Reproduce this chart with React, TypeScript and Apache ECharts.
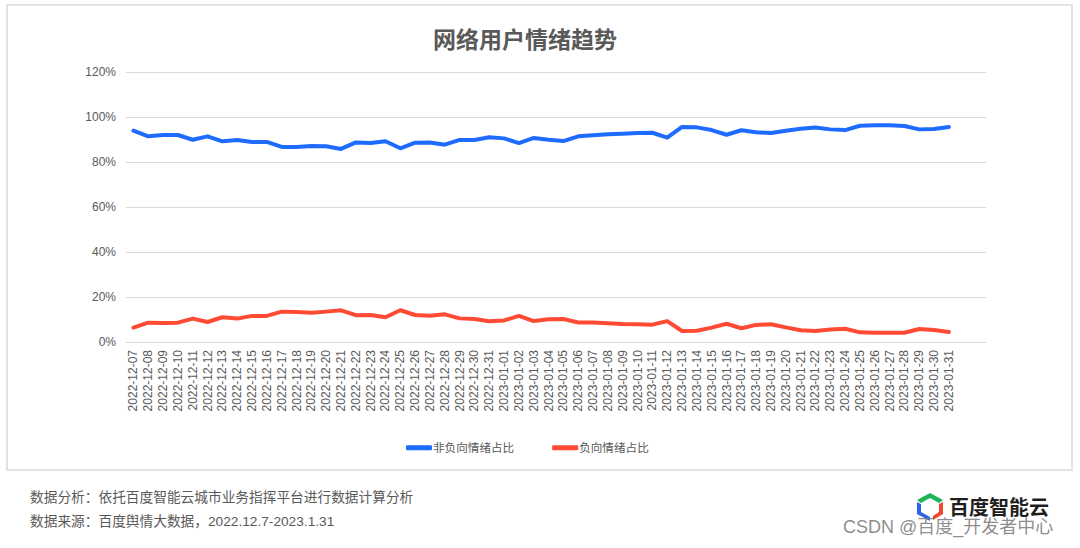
import React, { useEffect, useRef } from "react";
import * as echarts from "echarts";

const dates = [
  "2022-12-07", "2022-12-08", "2022-12-09", "2022-12-10", "2022-12-11", "2022-12-12", "2022-12-13",
  "2022-12-14", "2022-12-15", "2022-12-16", "2022-12-17", "2022-12-18", "2022-12-19", "2022-12-20",
  "2022-12-21", "2022-12-22", "2022-12-23", "2022-12-24", "2022-12-25", "2022-12-26", "2022-12-27",
  "2022-12-28", "2022-12-29", "2022-12-30", "2022-12-31", "2023-01-01", "2023-01-02", "2023-01-03",
  "2023-01-04", "2023-01-05", "2023-01-06", "2023-01-07", "2023-01-08", "2023-01-09", "2023-01-10",
  "2023-01-11", "2023-01-12", "2023-01-13", "2023-01-14", "2023-01-15", "2023-01-16", "2023-01-17",
  "2023-01-18", "2023-01-19", "2023-01-20", "2023-01-21", "2023-01-22", "2023-01-23", "2023-01-24",
  "2023-01-25", "2023-01-26", "2023-01-27", "2023-01-28", "2023-01-29", "2023-01-30", "2023-01-31",
];
// two empty trailing categories as in the original sheet
const trailingBlanks = ["", ""];

const nonNegative = [
  93.9, 91.4, 92.0, 92.0, 89.9, 91.4, 89.2, 89.8, 88.9, 88.9, 86.7, 86.7, 87.1, 87.0,
  85.8, 88.7, 88.4, 89.2, 86.1, 88.6, 88.7, 87.7, 89.8, 89.8, 91.0, 90.5, 88.4, 90.7,
  89.9, 89.3, 91.4, 91.9, 92.3, 92.6, 92.9, 93.0, 90.8, 95.6, 95.4, 94.2, 92.1, 94.1,
  93.2, 92.9, 93.9, 94.8, 95.3, 94.5, 94.2, 96.1, 96.3, 96.3, 96.0, 94.5, 94.7, 95.6,
];
const negative = [
  6.4, 8.6, 8.4, 8.6, 10.4, 8.9, 11.0, 10.4, 11.6, 11.6, 13.5, 13.3, 13.0, 13.5,
  14.1, 11.9, 12.0, 11.0, 14.1, 12.0, 11.7, 12.3, 10.5, 10.2, 9.2, 9.6, 11.6, 9.3,
  10.1, 10.2, 8.7, 8.7, 8.3, 8.0, 7.9, 7.7, 9.3, 4.9, 5.0, 6.4, 8.1, 6.1,
  7.6, 7.9, 6.5, 5.2, 4.9, 5.6, 5.9, 4.3, 4.1, 4.1, 4.1, 5.8, 5.3, 4.4,
];

const seriesNames = ["非负向情绪占比", "负向情绪占比"];
const titleText = "网络用户情绪趋势";
const footLine1 = "数据分析：依托百度智能云城市业务指挥平台进行数据计算分析";
const footLine2 = "数据来源：百度舆情大数据，2022.12.7-2023.1.31";
const brandText = "百度智能云";
const watermark = "CSDN @百度_开发者中心";

const FONT = "'Liberation Sans', 'Noto Sans CJK SC', sans-serif";
const GRAY = "#595959";

export default function App() {
  const ref = useRef<HTMLDivElement>(null);
  useEffect(() => {
    if (!ref.current) return;
    const chart = echarts.init(ref.current, null, { renderer: "svg" });
    chart.setOption({
      animation: false,
      backgroundColor: "#ffffff",
      textStyle: { fontFamily: FONT },
      title: {
        text: titleText,
        left: 428,
        top: 23,
        textStyle: { fontSize: 23, fontWeight: "bold", color: GRAY, fontFamily: FONT },
      },
      legend: {
        top: 442,
        left: 406,
        padding: 0,
        icon: "roundRect",
        itemWidth: 26,
        itemHeight: 5,
        itemGap: 38,
        textStyle: { fontSize: 11.6, color: GRAY, padding: [0, 0, 0, -4] },
        data: seriesNames,
      },
      grid: { left: 126, right: 94, top: 72, bottom: 206, containLabel: false },
      xAxis: {
        type: "category",
        data: [...dates, ...trailingBlanks],
        boundaryGap: true,
        axisLine: { show: true, lineStyle: { color: "#d9d9d9" } },
        axisTick: { show: false },
        axisLabel: { rotate: 90, interval: 0, fontSize: 12, color: GRAY, margin: 8 },
      },
      yAxis: {
        type: "value",
        min: 0,
        max: 120,
        interval: 20,
        axisLine: { show: false },
        axisTick: { show: false },
        axisLabel: { formatter: "{value}%", fontSize: 12, color: GRAY, margin: 10 },
        splitLine: { lineStyle: { color: "#d9d9d9", width: 1 } },
      },
      series: [
        {
          name: seriesNames[0],
          type: "line",
          data: nonNegative,
          showSymbol: false,
          symbol: "none",
          lineStyle: { width: 4, color: "#1e6bff", cap: "round", join: "round" },
          itemStyle: { color: "#1e6bff" },
        },
        {
          name: seriesNames[1],
          type: "line",
          data: negative,
          showSymbol: false,
          symbol: "none",
          lineStyle: { width: 4, color: "#ff4b33", cap: "round", join: "round" },
          itemStyle: { color: "#ff4b33" },
        },
      ],
      graphic: [
        {
          type: "rect",
          silent: true,
          shape: { x: 7, y: 5, width: 1065, height: 465 },
          style: { fill: "none", stroke: "#e3e3e3", lineWidth: 2 },
        },
        {
          type: "text",
          x: 30,
          y: 497,
          style: { text: footLine1, fontSize: 13.7, fill: GRAY, fontFamily: FONT, textVerticalAlign: "middle" },
        },
        {
          type: "text",
          x: 30,
          y: 521,
          style: { text: footLine2, fontSize: 13.7, fill: GRAY, fontFamily: FONT, textVerticalAlign: "middle" },
        },
        {
          type: "polygon",
          shape: { points: [[917, 500], [930, 493], [943, 500], [939, 503], [930, 498], [921, 503]] },
          style: { fill: "#1fb35a" },
        },
        {
          type: "polygon",
          shape: { points: [[917, 502], [921, 504], [921, 512], [930, 517], [930, 521], [917, 514]] },
          style: { fill: "#2b63f0" },
        },
        {
          type: "polygon",
          shape: { points: [[943, 502], [943, 514], [933, 520], [933, 516], [939, 512], [939, 504]] },
          style: { fill: "#f0472e" },
        },
        {
          type: "text",
          x: 949,
          y: 508,
          style: { text: brandText, fontSize: 20, fontWeight: "bold", fill: "#1f1f1f", fontFamily: FONT, textVerticalAlign: "middle" },
        },
        {
          type: "text",
          x: 843,
          y: 527,
          style: { text: watermark, fontSize: 18, fill: "rgba(120,120,120,0.85)", fontFamily: FONT, textVerticalAlign: "middle" },
        },
      ],
    });
    return () => chart.dispose();
  }, []);
  return (
    <div
      ref={ref}
      style={{ position: "fixed", left: 0, top: 0, width: 1080, height: 548 }}
    />
  );
}
